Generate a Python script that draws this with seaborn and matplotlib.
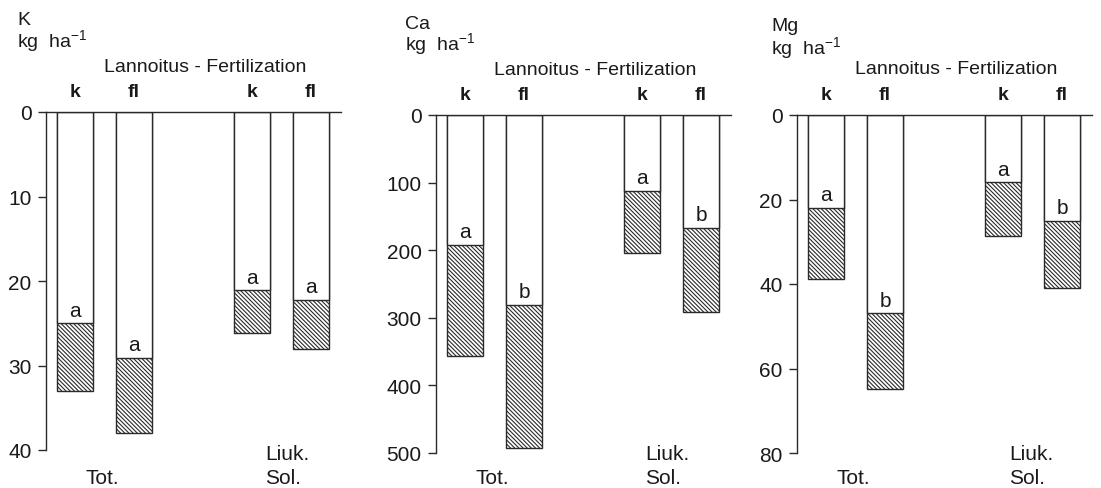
import numpy as np
import pandas as pd
import seaborn as sns
import matplotlib.pyplot as plt
from matplotlib.transforms import blended_transform_factory

# Slots along x (the empty one makes the gap between Tot. and Liuk./Sol.)
slots = ['Tot k', 'Tot fl', 'gap', 'Sol k', 'Sol fl']
bar_slots = ['Tot k', 'Tot fl', 'Sol k', 'Sol fl']
treatments = ['k', 'fl', 'k', 'fl']

elements = ['K', 'Ca', 'Mg']

# White part ends at "upper", hatched part ends at "total"
k_upper = [25.0, 29.1, 21.1, 22.2]
k_total = [33.0, 38.0, 26.1, 28.1]
k_letters = ['a', 'a', 'a', 'a']

ca_upper = [192, 281, 112, 167]
ca_total = [356, 492, 204, 291]
ca_letters = ['a', 'b', 'a', 'b']

mg_upper = [22.0, 46.9, 15.9, 25.1]
mg_total = [38.9, 64.9, 28.6, 41.0]
mg_letters = ['a', 'b', 'a', 'b']

y_max = [40, 500, 80]
y_step = [10, 100, 20]

uppers = [k_upper, ca_upper, mg_upper]
totals = [k_total, ca_total, mg_total]
letters = [k_letters, ca_letters, mg_letters]

sns.set_theme(style='white')
plt.rcParams['font.family'] = ['Liberation Sans', 'DejaVu Sans']
plt.rcParams['hatch.linewidth'] = 0.8
plt.rcParams['hatch.color'] = '#222222'

W, H = 1101, 489
fig = plt.figure(figsize=(W / 100, H / 100), dpi=100)
fig.patch.set_facecolor('white')

# pixel layout of each panel: left edge, top (y=0), bottom (y=max)
layout = [(45.5, 113, 451), (435.5, 116, 454), (796.5, 116, 454)]
# element label (x, baseline), unit baseline, subtitle baseline
head = [(17, 25, 48, 72), (405, 29, 51, 75), (771, 31, 55, 74)]
sol_x = [3.22, 3.06, 3.10]
edge = '#2a2a2a'
ink = '#1a1a1a'


def px(x, y):
    return x / W, 1 - y / H


for i, el in enumerate(elements):
    left, top, bottom = layout[i]
    ax = fig.add_axes([left / W, 1 - bottom / H, 295 / W, (bottom - top) / H])
    df = pd.DataFrame({'slot': bar_slots, 'treatment': treatments,
                       'upper': uppers[i], 'total': totals[i],
                       'letter': letters[i]})

    # hatched full bar, then the white upper part over it
    sns.barplot(data=df, x='slot', y='total', order=slots, ax=ax,
                color='white', saturation=1, width=0.6, errorbar=None,
                edgecolor=edge, linewidth=1.0, hatch='\\' * 8)
    sns.barplot(data=df, x='slot', y='upper', order=slots, ax=ax,
                color='white', saturation=1, width=0.6, errorbar=None,
                edgecolor=edge, linewidth=1.0)

    ax.set_xlim(-0.5, 4.5)
    ax.set_ylim(y_max[i], 0)
    ax.set_yticks(np.arange(0, y_max[i] + 1, y_step[i]))
    ax.set_xticks([])
    ax.set_xlabel('')
    ax.set_ylabel('')
    for s in ['right', 'bottom']:
        ax.spines[s].set_visible(False)
    for s in ['left', 'top']:
        ax.spines[s].set_color(edge)
        ax.spines[s].set_linewidth(1.0)
    ax.tick_params(axis='y', left=True, length=6, width=1.0, color=edge,
                   pad=4, labelsize=15, labelcolor=ink)

    trans = blended_transform_factory(ax.transData, ax.transAxes)
    h = bottom - top
    for j, row in df.iterrows():
        xpos = slots.index(row['slot'])
        ax.text(xpos, 1 + 16 / h, row['treatment'],
                transform=trans, ha='center', va='baseline',
                fontsize=14, fontweight='bold', color=ink)
        ax.annotate(row['letter'], xy=(xpos, row['upper']),
                    xytext=(0, 5.5), textcoords='offset points',
                    ha='center', va='baseline', fontsize=15, color=ink)

    ax.text(0.47, -(484 - bottom) / h, 'Tot.', transform=trans,
            ha='center', va='baseline', fontsize=15, color=ink)
    ax.text(sol_x[i], -(460 - bottom) / h, 'Liuk.', transform=trans,
            ha='left', va='baseline', fontsize=15, color=ink)
    ax.text(sol_x[i], -(484 - bottom) / h, 'Sol.', transform=trans,
            ha='left', va='baseline', fontsize=15, color=ink)
    ax.text(2.2, 1 + (top - head[i][3]) / h, 'Lannoitus - Fertilization',
            transform=trans, ha='center', va='baseline', fontsize=14,
            color=ink)

    hx, hy_el, hy_unit, _ = head[i]
    fig.text(*px(hx, hy_el), el, ha='left', va='baseline', fontsize=14,
             color=ink)
    fig.text(*px(hx, hy_unit), 'kg  ha$^{\\mathregular{-1}}$', ha='left',
             va='baseline', fontsize=14, color=ink)

fig.savefig('out.png', dpi=100, facecolor='white')
